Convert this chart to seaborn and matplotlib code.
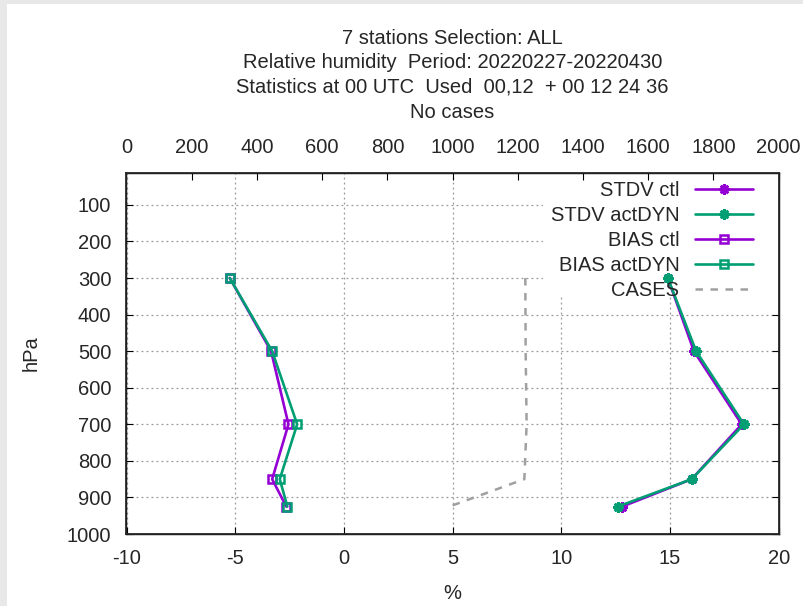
import matplotlib
matplotlib.use("Agg")
import matplotlib.pyplot as plt
from matplotlib.patches import Rectangle
import seaborn as sns

# pressure levels (hPa)
levels = [300, 500, 700, 850, 925]

# values
stdv_ctl = [14.9, 16.1, 18.3, 16.0, 12.8]
stdv_act = [14.9, 16.2, 18.4, 16.0, 12.6]
bias_ctl = [-5.25, -3.35, -2.55, -3.3, -2.65]
bias_act = [-5.25, -3.3, -2.15, -2.95, -2.6]
cases = [1223, 1224, 1227, 1220, 990]

title_lines = [
    "7 stations Selection: ALL",
    "Relative humidity  Period: 20220227-20220430",
    "Statistics at 00 UTC  Used  00,12  + 00 12 24 36",
    "No cases",
]

purple = "#9400D3"
green = "#009E73"
grey = "#A0A0A0"

sns.set_theme(style="white")
plt.rcParams["font.family"] = ["Liberation Sans", "DejaVu Sans"]
plt.rcParams["axes.unicode_minus"] = False
fs = 14.5

W, H = 804, 606
fig = plt.figure(figsize=(W / 100, H / 100), dpi=100)
fig.patch.set_facecolor("#e8e8e8")
fig.add_artist(Rectangle((7 / W, 0), 1, 1 - 4 / H, transform=fig.transFigure,
                         facecolor="white", edgecolor="none", zorder=-1))

x0, x1 = 126.5, 778.7
y0, y1 = 172.7, 534.0
ax = fig.add_axes([x0 / W, 1 - y1 / H, (x1 - x0) / W, (y1 - y0) / H])

# STDV: asterisk markers, BIAS: open squares
star = dict(marker=(8, 2, 0), markersize=7.5, markeredgewidth=1.9)
sq = dict(marker="s", markersize=5.8, markerfacecolor="none", markeredgewidth=1.8)
sns.lineplot(x=stdv_ctl, y=levels, sort=False, estimator=None, color=purple,
             lw=1.9, ax=ax, label="STDV ctl", markeredgecolor=purple, zorder=3, **star)
sns.lineplot(x=stdv_act, y=levels, sort=False, estimator=None, color=green,
             lw=1.9, ax=ax, label="STDV actDYN", markeredgecolor=green, zorder=3, **star)
sns.lineplot(x=bias_ctl, y=levels, sort=False, estimator=None, color=purple,
             lw=1.9, ax=ax, label="BIAS ctl", markeredgecolor=purple, zorder=3, **sq)
sns.lineplot(x=bias_act, y=levels, sort=False, estimator=None, color=green,
             lw=1.9, ax=ax, label="BIAS actDYN", markeredgecolor=green, zorder=3, **sq)

ax.set_xlim(-10, 20)
ax.set_ylim(1000, 12)
ax.set_xticks(range(-10, 21, 5))
ax.set_yticks(range(100, 1001, 100))
ax.grid(True, color="#999999", linestyle=(0, (1.5, 2.5)), linewidth=0.9)
ax.set_axisbelow(True)
ax.tick_params(direction="in", length=5, width=0.8, color="black",
               labelsize=fs, right=True, left=True, bottom=True)
ax.tick_params(axis="x", pad=11)
ax.tick_params(axis="y", pad=11)
for s in ax.spines.values():
    s.set_color("black")
    s.set_linewidth(1.0)
ax.set_xlabel("%", fontsize=fs, labelpad=11)
ax.set_ylabel("hPa", fontsize=fs, labelpad=19)

# white key background over the grid
ax.add_patch(Rectangle(((543 - x0) / (x1 - x0), (y1 - 297) / (y1 - y0)),
                       1, 1, transform=ax.transAxes, facecolor="white",
                       edgecolor="none", zorder=1))

# cases on top axis
ax2 = ax.twiny()
sns.lineplot(x=cases, y=levels, sort=False, estimator=None, color=grey,
             lw=1.8, linestyle=(0, (3, 3)), ax=ax2, label="CASES")
ax2.set_xlim(0, 2000)
ax2.set_xticks(range(0, 2001, 200))
ax2.tick_params(direction="in", length=5, width=0.8, color="black",
                labelsize=fs, pad=11)
ax2.set_ylim(1000, 12)
ax2.get_legend().remove()
ax.get_legend().remove()

h1, l1 = ax.get_legend_handles_labels()
h2, l2 = ax2.get_legend_handles_labels()
leg = ax2.legend(h1 + h2, l1 + l2, loc="upper right", frameon=False,
                 markerfirst=False, fontsize=fs, handlelength=2.9,
                 handletextpad=0.75, labelspacing=0.3, borderaxespad=0,
                 bbox_to_anchor=((761 - x0) / (x1 - x0), 1.0))
leg.set_zorder(0.5)

cx = (x0 + x1) / 2 / W
for txt, yy in zip(title_lines, [38, 62, 87, 112]):
    fig.text(cx, 1 - yy / H, txt, ha="center", va="center", fontsize=fs)

fig.savefig("out.png", dpi=100)
